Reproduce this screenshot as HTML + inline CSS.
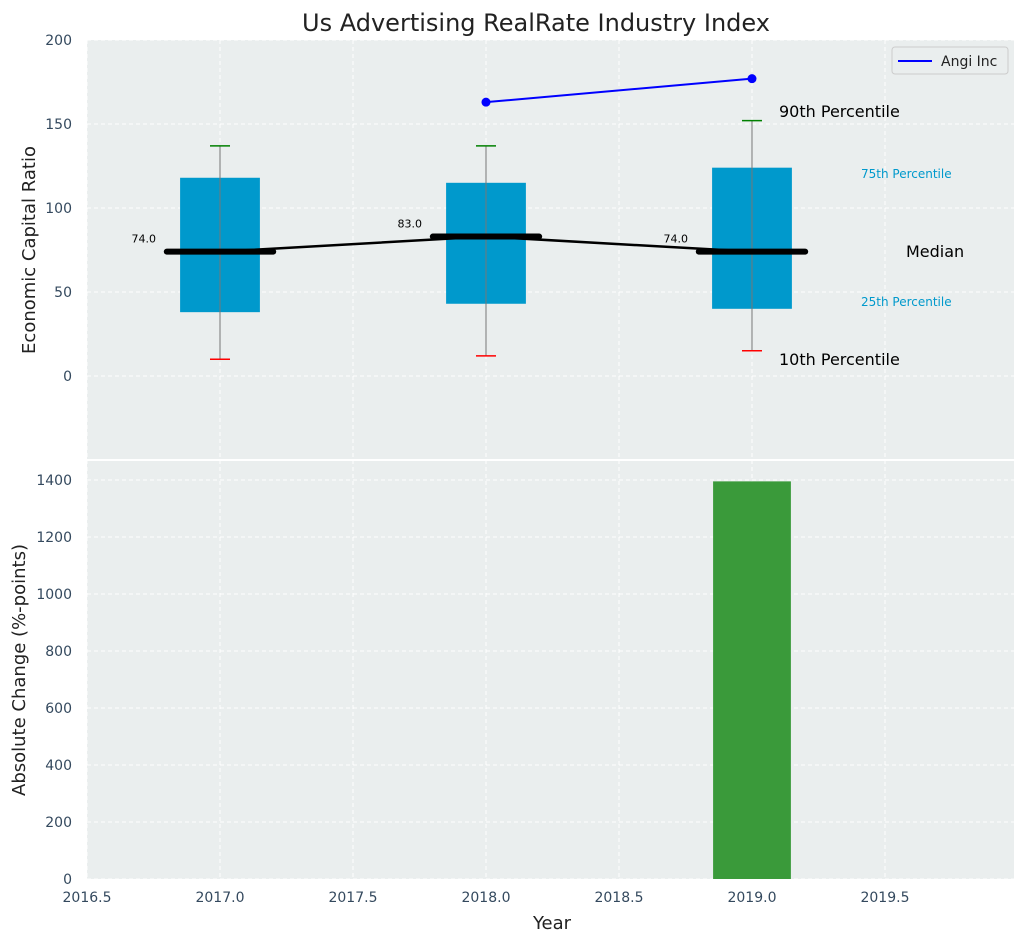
<!DOCTYPE html>
<html><head><meta charset="utf-8"><style>
body{margin:0;background:#fff;font-family:"Liberation Sans","DejaVu Sans",sans-serif}
svg text{font-family:"DejaVu Sans","Liberation Sans",sans-serif}
</style></head><body>
<svg id="c" width="1026" height="942" xmlns="http://www.w3.org/2000/svg"></svg>
<script>
const years=[2017,2018,2019];
const q25=[38,43,40];
const q75=[118,115,124];
const p10=[10,12,15];
const p90=[137,137,152];
const medians=[74,83,74];
const angiYears=[2018,2019];
const angiValues=[163,177];
const changeYears=[2019];
const changeValues=[1395];
const xTicks=[2016.5,2017,2017.5,2018,2018.5,2019,2019.5];
const yTopTicks=[0,50,100,150,200];
const yBotTicks=[0,200,400,600,800,1000,1200,1400];

const NS="http://www.w3.org/2000/svg",svg=document.getElementById('c');
function el(t,a,txt,p){const e=document.createElementNS(NS,t);for(const k in a)e.setAttribute(k,a[k]);if(txt!=null)e.textContent=txt;(p||svg).appendChild(e);return e;}
const L=87,R=1014;
const X=v=>L+(v-2016.5)*(R-L)/(2019.985-2016.5);
const T0=40,T1=460,B0=460,B1=879;
const YT=v=>T1-(v+50)*(T1-T0)/250;
const YB=v=>B1-v*(B1-B0)/1470;

let e;
e=el('rect',{x:L,y:T0,width:R-L,height:T1-T0,fill:'#eaeeee'});

e=el('rect',{x:L,y:B0+1,width:R-L,height:B1-B0-1,fill:'#eaeeee'});

el('line',{x1:L,x2:R,y1:460,y2:460,stroke:'#fff','stroke-width':2});
// grid
xTicks.forEach(t=>{[[T0,T1],[B0,B1]].forEach(r=>{el('line',{x1:X(t),x2:X(t),y1:r[0],y2:r[1],stroke:'#fff','stroke-dasharray':'4,3','stroke-width':1});});});
yTopTicks.forEach(t=>{el('line',{x1:L,x2:R,y1:YT(t),y2:YT(t),stroke:'#fff','stroke-dasharray':'4,3'});
 e=el('text',{x:72,y:YT(t)+5,'text-anchor':'end','font-size':14,fill:'#34495e'},t);
 });
yBotTicks.forEach(t=>{el('line',{x1:L,x2:R,y1:YB(t),y2:YB(t),stroke:'#fff','stroke-dasharray':'4,3'});
 e=el('text',{x:72,y:YB(t)+5,'text-anchor':'end','font-size':14,fill:'#34495e'},t);
 });
xTicks.forEach(t=>{e=el('text',{x:X(t),y:902,'text-anchor':'middle','font-size':14,fill:'#34495e'},t.toFixed(1));
 });
// boxes
const hw=(X(2017.15)-X(2017));
years.forEach((y,i)=>{
 e=el('rect',{x:X(y)-hw,y:YT(q75[i]),width:2*hw,height:YT(q25[i])-YT(q75[i]),fill:'#0099cc'});
 
 e=el('line',{x1:X(y),x2:X(y),y1:YT(p90[i]),y2:YT(p10[i]),stroke:'#777','stroke-width':1});
 
 e=el('line',{x1:X(y)-10,x2:X(y)+10,y1:YT(p90[i]),y2:YT(p90[i]),stroke:'green','stroke-width':1.5});
 
 e=el('line',{x1:X(y)-10,x2:X(y)+10,y1:YT(p10[i]),y2:YT(p10[i]),stroke:'red','stroke-width':1.5});
 
 e=el('line',{x1:X(y-0.2),x2:X(y+0.2),y1:YT(medians[i]),y2:YT(medians[i]),stroke:'#000','stroke-width':6,'stroke-linecap':'round'});
 
 e=el('text',{x:X(y)-64,y:YT(medians[i])-9,'text-anchor':'end','font-size':11,fill:'#000'},medians[i].toFixed(1));
 
});
e=el('polyline',{points:years.map((y,i)=>X(y)+','+YT(medians[i])).join(' '),fill:'none',stroke:'#000','stroke-width':2.5});

e=el('polyline',{points:angiYears.map((y,i)=>X(y)+','+YT(angiValues[i])).join(' '),fill:'none',stroke:'blue','stroke-width':2});

angiYears.forEach((y,i)=>{e=el('circle',{cx:X(y),cy:YT(angiValues[i]),r:4.5,fill:'blue'});
 });
// annotations
const ann=[[779,117,'90th Percentile',16,'#000'],[861,178,'75th Percentile',12,'#0099cc'],[906,257,'Median',16,'#000'],[861,306,'25th Percentile',12,'#0099cc'],[779,365,'10th Percentile',16,'#000']];
ann.forEach(a=>{e=el('text',{x:a[0],y:a[1],'font-size':a[3],fill:a[4]},a[2]);
 });
// bars
changeYears.forEach((y,i)=>{e=el('rect',{x:X(y)-hw+1,y:YB(changeValues[i]),width:2*hw-2,height:YB(0)-YB(changeValues[i]),fill:'#3a9a3a'});
 });
// legend
const lg=el('g',{});

el('rect',{x:892,y:47,width:116,height:27,rx:3,fill:'#eaeeee',stroke:'#ccc'},null,lg);
el('line',{x1:898,x2:932,y1:61,y2:61,stroke:'blue','stroke-width':2},null,lg);
el('text',{x:941,y:66,'font-size':14,fill:'#222'},'Angi Inc',lg);
// titles
e=el('text',{x:536,y:31,'text-anchor':'middle','font-size':24,fill:'#222'},'Us Advertising RealRate Industry Index');

e=el('text',{x:552,y:929,'text-anchor':'middle','font-size':18,fill:'#222'},'Year');

e=el('text',{x:0,y:0,'text-anchor':'middle','font-size':18,fill:'#222',transform:'translate(35,250) rotate(-90)'},'Economic Capital Ratio');

e=el('text',{x:0,y:0,'text-anchor':'middle','font-size':18,fill:'#222',transform:'translate(25,670) rotate(-90)'},'Absolute Change (%-points)');

</script>
</body></html>
